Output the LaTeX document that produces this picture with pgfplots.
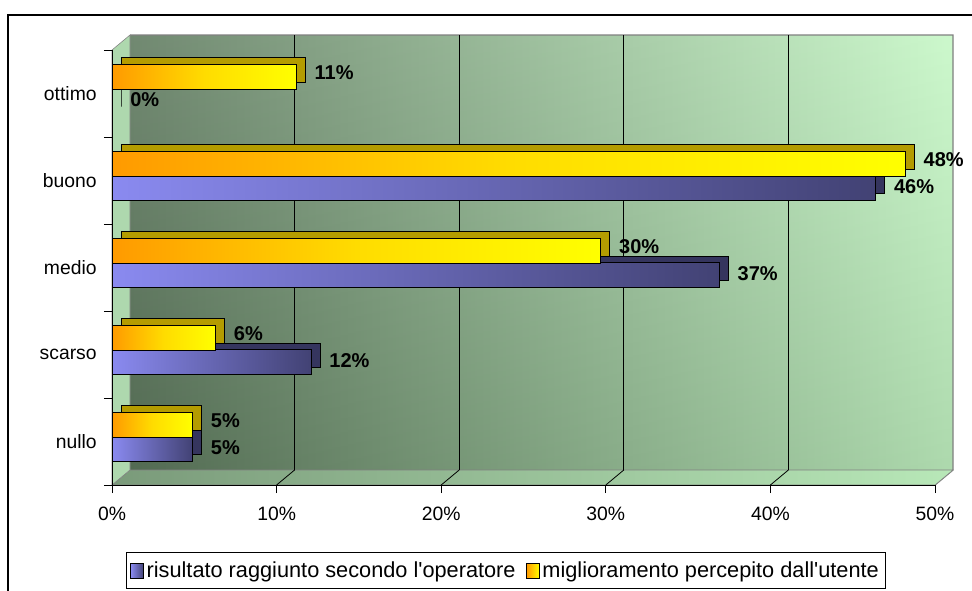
\documentclass[border=0pt]{standalone}
\usepackage{pgfplots}
\pgfplotsset{compat=1.18}
\usepackage{fontspec}
\setmainfont{Liberation Sans}
\definecolor{wallL}{HTML}{5E795E}
\definecolor{wallR}{HTML}{C6F8C6}
\definecolor{floorL}{HTML}{7A9A7A}
\definecolor{floorR}{HTML}{B8E8B8}
\definecolor{lwall}{HTML}{AED8AE}
\definecolor{blueL}{HTML}{8A8AF0}
\definecolor{blueR}{HTML}{424274}
\definecolor{bshadow}{HTML}{35355E}
\definecolor{yelL}{HTML}{FF9A00}
\definecolor{yelM}{HTML}{FFDC00}
\definecolor{yelR}{HTML}{FFFF00}
\definecolor{yshadow}{HTML}{B49C00}
\pgfplotsset{
  labstyle/.style={point meta=x,
    nodes near coords={\pgfmathprintnumber[assume math mode=true,fixed,precision=0]{\pgfplotspointmeta}\%},
    every node near coord/.append style={anchor=west, text=black, font=\bfseries\fontsize{15}{18}\selectfont, xshift=10pt}},
  bshad/.style={xbar, bar width=18.4pt, bar shift=-5.8pt, fill=bshadow, draw=black, line width=0.6pt,
    xshift=6.75pt, yshift=5.25pt, forget plot},
  bface/.style={xbar, bar width=18.4pt, bar shift=-5.8pt, left color=blueL, right color=blueR,
    draw=black, line width=0.75pt, forget plot, labstyle,
    every node near coord/.append style={yshift=-4.5pt}},
  yshad/.style={xbar, bar width=18.4pt, bar shift=12.56pt, fill=yshadow, draw=black, line width=0.6pt,
    xshift=6.75pt, yshift=5.25pt, forget plot},
  yface/.style={xbar, bar width=18.4pt, bar shift=12.56pt, left color=yelL, right color=yelR, middle color=yelM,
    draw=black, line width=0.75pt, forget plot, labstyle,
    every node near coord/.append style={yshift=15.5pt}},
}
\begin{document}
\begin{tikzpicture}
\begin{scope}
\clip (0,0) rectangle (729pt,442.5pt);
\fill[white] (0,0) rectangle (729pt,442.5pt);
\draw[line width=1.5pt] (6pt,-5pt) -- (6pt,431.25pt) -- (740pt,431.25pt);
\begin{axis}[
  axis on top,
  scale only axis, width=617.25pt, height=326.25pt,
  at={(84pt,78.75pt)}, anchor=south west,
  xmin=0, xmax=50, ymin=-0.5, ymax=4.5,
  axis x line*=bottom, axis y line*=left,
  axis line style={black, line width=0.75pt},
  xtick={0,10,...,50},
  xticklabels={0\%,10\%,20\%,30\%,40\%,50\%},
  ytick={-0.5,0.5,1.5,2.5,3.5,4.5}, yticklabels={},
  extra y ticks={0,1,2,3,4},
  extra y tick labels={nullo,scarso,medio,buono,ottimo},
  extra y tick style={tick style={draw=none}, yticklabel style={xshift=-2pt}},
  tick align=outside, major tick length=6pt,
  tick style={black, line width=0.75pt},
  xticklabel style={yshift=-7pt},
  tick label style={font=\fontsize{14.5}{17}\selectfont},
  legend columns=2,
  legend cell align=left,
  legend style={at={(0.017,-0.154)}, anchor=north west, draw=black, line width=0.75pt,
    font=\fontsize{16.3}{19}\selectfont, inner ysep=5pt, inner xsep=3pt,
    /tikz/every even column/.append style={column sep=6pt}},
  legend image code/.code={\draw[#1, draw=black, line width=0.6pt] (0pt,-5.5pt) rectangle (9.5pt,5.5pt);},
  clip=false,
]
  \shade[left color=wallL, right color=wallR]
    ([xshift=13.5pt,yshift=11.25pt]rel axis cs:0,0) rectangle ([xshift=13.5pt,yshift=11.25pt]rel axis cs:1,1);
  \shade[top color=white, bottom color=black, opacity=0.12]
    ([xshift=13.5pt,yshift=11.25pt]rel axis cs:0,0) rectangle ([xshift=13.5pt,yshift=11.25pt]rel axis cs:1,1);
  \draw[gray, line width=1pt] ([xshift=13.5pt,yshift=11.25pt]rel axis cs:0,1) -- ([xshift=13.5pt,yshift=11.25pt]rel axis cs:1,1) -- ([xshift=13.5pt,yshift=11.25pt]rel axis cs:1,0) -- (rel axis cs:1,0);
  \shade[left color=floorL, right color=floorR, draw=gray]
    (rel axis cs:0,0) -- ([xshift=13.5pt,yshift=11.25pt]rel axis cs:0,0) -- ([xshift=13.5pt,yshift=11.25pt]rel axis cs:1,0) -- (rel axis cs:1,0) -- cycle;
  \fill[lwall, draw=gray]
    (rel axis cs:0,0) -- (rel axis cs:0,1) -- ([xshift=13.5pt,yshift=11.25pt]rel axis cs:0,1) -- ([xshift=13.5pt,yshift=11.25pt]rel axis cs:0,0) -- cycle;
  \pgfplotsinvokeforeach{10,20,30,40}{
    \draw[black, line width=0.6pt] ([xshift=13.5pt,yshift=11.25pt]axis cs:#1,-0.5) -- ([xshift=13.5pt,yshift=11.25pt]axis cs:#1,4.5);
    \draw[black, line width=0.6pt] (axis cs:#1,-0.5) -- ([xshift=13.5pt,yshift=11.25pt]axis cs:#1,-0.5);
  }
% risultato raggiunto secondo l'operatore (one bar per category, so each bar has its own gradient)
\addplot[bshad] coordinates {(4.9,0)};
\addplot[bshad] coordinates {(12.1,1)};
\addplot[bshad] coordinates {(36.9,2)};
\addplot[bshad] coordinates {(46.4,3)};
\addplot[bshad] coordinates {(0,4)};
\addplot[bface] coordinates {(4.9,0)};
\addplot[bface] coordinates {(12.1,1)};
\addplot[bface] coordinates {(36.9,2)};
\addplot[bface] coordinates {(46.4,3)};
\addplot[bface] coordinates {(0,4)};
% miglioramento percepito dall'utente
\addplot[yshad] coordinates {(4.9,0)};
\addplot[yshad] coordinates {(6.3,1)};
\addplot[yshad] coordinates {(29.7,2)};
\addplot[yshad] coordinates {(48.2,3)};
\addplot[yshad] coordinates {(11.2,4)};
\addplot[yface] coordinates {(4.9,0)};
\addplot[yface] coordinates {(6.3,1)};
\addplot[yface] coordinates {(29.7,2)};
\addplot[yface] coordinates {(48.2,3)};
\addplot[yface] coordinates {(11.2,4)};
\addlegendimage{left color=blueL, right color=blueR}
\addlegendentry{risultato raggiunto secondo l\textquotesingle operatore}
\addlegendimage{left color=yelL, right color=yelR}
\addlegendentry{miglioramento percepito dall\textquotesingle utente}
\end{axis}
\end{scope}
\pgfresetboundingbox
\path[use as bounding box] (0,0) rectangle (729pt,442.5pt);
\end{tikzpicture}
\end{document}
